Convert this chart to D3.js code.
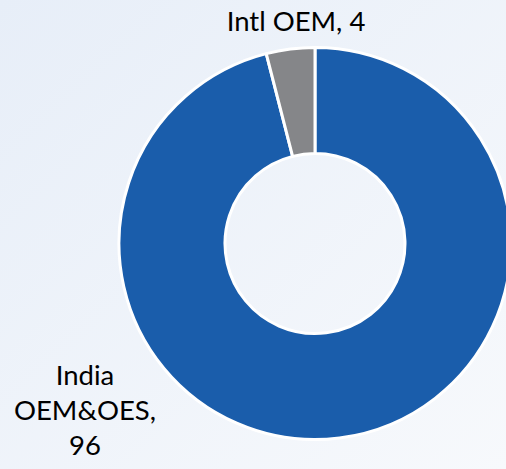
<!DOCTYPE html>
<html><head><meta charset="utf-8">
<script src="https://cdn.jsdelivr.net/npm/d3@7"></script>
<style>html,body{margin:0;padding:0;overflow:hidden;}</style>
</head><body>
<script>
const categories = ["India OEM&OES", "Intl OEM"];
const values = [96, 4];
const colors = ["#1a5dab", "#858689"];
const labelLines = [["India", "OEM&OES,", "96"], ["Intl OEM, 4"]];

const W = 506, H = 469;
const svg = d3.select("body").append("svg").attr("width", W).attr("height", H);
const defs = svg.append("defs");
const grad = defs.append("linearGradient").attr("id","bg").attr("x1","0").attr("y1","0").attr("x2","1").attr("y2","1");
grad.append("stop").attr("offset","0").attr("stop-color","#e7eef8");
grad.append("stop").attr("offset","1").attr("stop-color","#f7f9fc");
svg.append("rect").attr("width",W).attr("height",H).attr("fill","url(#bg)");

const cx = 315, cy = 243.5, R = 196, r = 90;
const pie = d3.pie().sort(null).value(d => d);
const arcs = pie(values);
const arc = d3.arc().innerRadius(r).outerRadius(R);
const g = svg.append("g").attr("transform", `translate(${cx},${cy})`);
g.selectAll("path").data(arcs).join("path")
  .attr("d", arc).attr("fill", (d,i)=>colors[i])
  .attr("stroke","#fff").attr("stroke-width",3).attr("stroke-linejoin","round");

const font = "Lato, 'Open Sans', sans-serif";
// Intl OEM label
svg.append("text").attr("x", 296).attr("y", 31).attr("text-anchor","middle")
  .attr("font-family", font).attr("font-size", 27.5).attr("fill","#000")
  .text(labelLines[1][0]);
// India label
const t = svg.append("text").attr("text-anchor","middle")
  .attr("font-family", font).attr("font-size", 27.5).attr("fill","#000");
labelLines[0].forEach((s,i)=>{
  t.append("tspan").attr("x", 85).attr("y", 385 + i*35).text(s);
});
</script>
</body></html>
